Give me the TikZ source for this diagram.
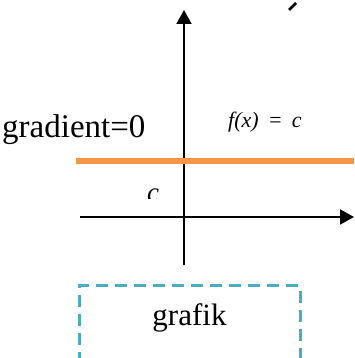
\documentclass[tikz,border=0pt]{standalone}
\usepackage{fontspec}
\setmainfont{Liberation Serif}
\usepackage{xcolor}
\usetikzlibrary{arrows.meta,positioning}

\definecolor{lineorange}{RGB}{247,150,70}
\definecolor{boxaqua}{RGB}{75,172,198}

\begin{document}
\begin{tikzpicture}[
    x=1pt, y=-1pt,
    axis/.style={line width=2pt, -{Triangle[length=14pt, width=15pt]}},
    lbl/.style={inner sep=0pt, anchor=base west},
    dashbox/.style={rectangle, draw=boxaqua, line width=3pt,
                    dash pattern=on 12pt off 7pt, anchor=north,
                    minimum width=221pt, minimum height=100pt}
  ]
  \clip (0,0) rectangle (354,358);

  %% ── axes ─────────────────────────────────────────────────────────
  \coordinate (yb) at (184,265);
  \coordinate (yt) at (184,10);
  \coordinate (xl) at (80,217);
  \coordinate (xr) at (354,217);
  \draw[axis] (yb) -- (yt);
  \draw[axis] (xl) -- (xr);

  %% ── constant function ────────────────────────────────────────────
  \coordinate (cl) at (76,161);
  \coordinate (cr) at (354,161);
  \draw[lineorange, line width=6pt] (cl) -- (cr);

  %% ── labels ───────────────────────────────────────────────────────
  \node[lbl, font=\fontsize{33}{36}\selectfont] (grad) at (2,138) {gradient=0};
  \node[lbl, font=\fontsize{22}{25}\selectfont\itshape] (fx) at (228,128) {f(x)\, =\, c};
  \begin{scope}
    \clip (140,180) rectangle (170,198);
    \node[lbl, font=\fontsize{27}{30}\selectfont\itshape] (cval) at (147,201) {c};
  \end{scope}

  %% ── clipped mark top right ───────────────────────────────────────
  \draw[line width=2.5pt] (296,3) -- (289,10);

  %% ── graph box ────────────────────────────────────────────────────
  \node[dashbox] (frame) at (189.5,284) {};
  \node[lbl, anchor=base, font=\fontsize{31}{34}\selectfont] (graf) at (189.5,325) {grafik};

\end{tikzpicture}
\end{document}
